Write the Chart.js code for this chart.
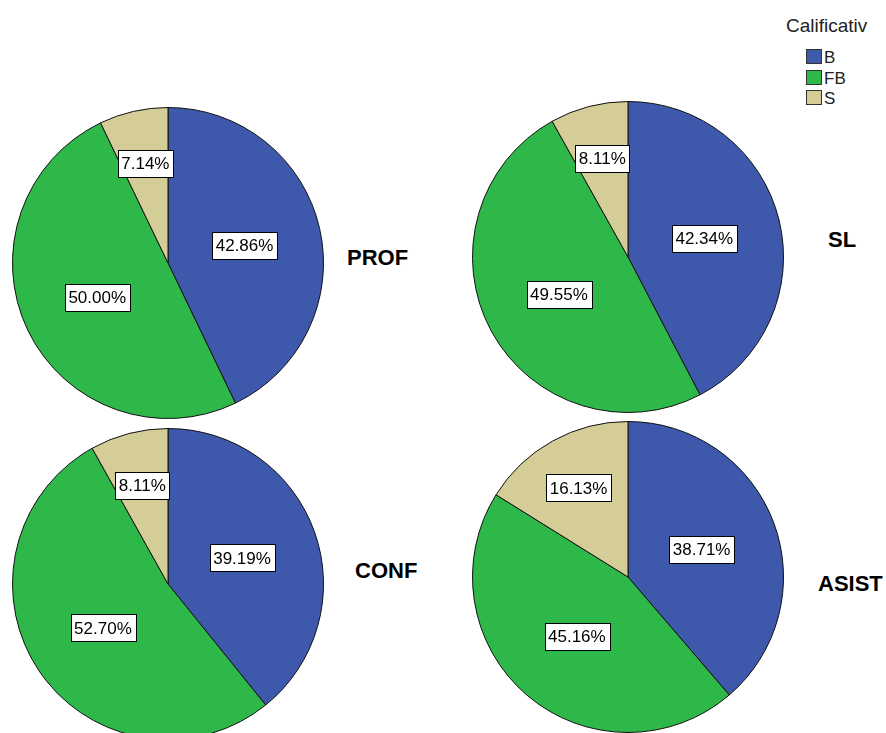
<!DOCTYPE html>
<html>
<head>
    <title>Calificativ</title>
    <meta charset="utf-8" />
    <script src="https://cdn.jsdelivr.net/npm/chart.js@4.4.0/dist/chart.umd.min.js"></script>
    <style>
        body {
            margin: 0;
            width: 886px;
            height: 733px;
            overflow: hidden;
            background: #fff;
            position: relative;
            font-family: 'Liberation Sans', Arial, sans-serif;
        }
        canvas {
            position: absolute;
        }
        .name {
            position: absolute;
            font-weight: bold;
            font-size: 22px;
            line-height: 22px;
            color: #000;
        }
        #legend {
            position: absolute;
            left: 786px;
            top: 15px;
            font-size: 17px;
            color: #222;
        }
        #legend .title {
            font-size: 19px;
            margin-bottom: 12px;
        }
        #legend .item {
            position: relative;
            height: 20.5px;
            padding-left: 38px;
            line-height: 17px;
        }
        #legend .box {
            position: absolute;
            left: 20px;
            top: 0;
            width: 14px;
            height: 13px;
            border: 1px solid #333;
        }
    </style>
</head>
<body>
    <div id="legend"><div class="title">Calificativ</div></div>

    <script>
        const categories = ['B', 'FB', 'S'];
        const colors = ['#3e58ac', '#2fb84a', '#d4cd98'];

        const prof = [42.86, 50.00, 7.14];
        const sl = [42.34, 49.55, 8.11];
        const conf = [39.19, 52.70, 8.11];
        const asist = [38.71, 45.16, 16.13];

        // where each pie sits on the page
        const pies = [
            { name: 'PROF', data: prof, cx: 168, cy: 263, tx: 347, ty: 247 },
            { name: 'SL', data: sl, cx: 628, cy: 257, tx: 828, ty: 229 },
            { name: 'CONF', data: conf, cx: 168, cy: 584, tx: 355, ty: 560 },
            { name: 'ASIST', data: asist, cx: 628, cy: 577, tx: 818, ty: 573 }
        ];

        // white boxed percent labels inside the slices
        const boxLabels = {
            id: 'boxLabels',
            afterDatasetsDraw(chart) {
                const ctx = chart.ctx;
                const meta = chart.getDatasetMeta(0);
                const values = chart.data.datasets[0].data;
                ctx.save();
                ctx.font = '17px "Liberation Sans", Arial, sans-serif';
                ctx.textAlign = 'center';
                ctx.textBaseline = 'middle';
                meta.data.forEach((arc, i) => {
                    const p = arc.getProps(['x', 'y', 'startAngle', 'endAngle', 'outerRadius'], true);
                    const mid = (p.startAngle + p.endAngle) / 2;
                    const f = values[i] < 20 ? 0.655 : 0.505;
                    const x = p.x + Math.cos(mid) * p.outerRadius * f;
                    const y = p.y + Math.sin(mid) * p.outerRadius * f;
                    const text = values[i].toFixed(2) + '%';
                    const w = ctx.measureText(text).width + 7;
                    const h = 27;
                    ctx.fillStyle = '#fff';
                    ctx.fillRect(Math.round(x - w / 2) + 0.5, Math.round(y - h / 2) + 0.5, Math.round(w), h);
                    ctx.strokeStyle = '#000';
                    ctx.lineWidth = 1;
                    ctx.strokeRect(Math.round(x - w / 2) + 0.5, Math.round(y - h / 2) + 0.5, Math.round(w), h);
                    ctx.fillStyle = '#000';
                    ctx.fillText(text, x, y + 1);
                });
                ctx.restore();
            }
        };

        pies.forEach(p => {
            const canvas = document.createElement('canvas');
            canvas.width = 312;
            canvas.height = 312;
            canvas.style.left = (p.cx - 156) + 'px';
            canvas.style.top = (p.cy - 156) + 'px';
            document.body.appendChild(canvas);

            new Chart(canvas.getContext('2d'), {
                type: 'pie',
                data: {
                    labels: categories,
                    datasets: [{
                        data: p.data,
                        backgroundColor: colors,
                        borderColor: '#111',
                        borderWidth: 1
                    }]
                },
                options: {
                    responsive: false,
                    animation: false,
                    layout: { padding: 0 },
                    plugins: {
                        legend: { display: false },
                        tooltip: { enabled: false }
                    }
                },
                plugins: [boxLabels]
            });

            const label = document.createElement('div');
            label.className = 'name';
            label.textContent = p.name;
            label.style.left = p.tx + 'px';
            label.style.top = p.ty + 'px';
            document.body.appendChild(label);
        });

        // legend
        const legend = document.getElementById('legend');
        categories.forEach((c, i) => {
            const item = document.createElement('div');
            item.className = 'item';
            const box = document.createElement('span');
            box.className = 'box';
            box.style.background = colors[i];
            item.appendChild(box);
            item.appendChild(document.createTextNode(c));
            legend.appendChild(item);
        });
    </script>
</body>
</html>
